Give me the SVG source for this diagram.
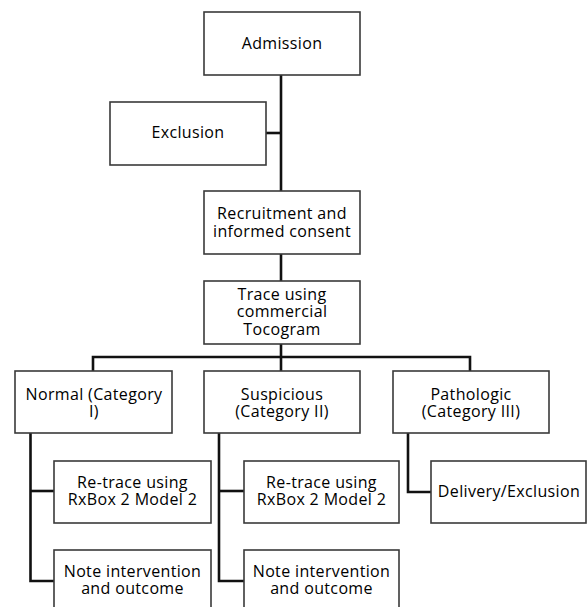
<svg xmlns="http://www.w3.org/2000/svg" width="587" height="607" viewBox="0 0 587 607">
<style>
.box{fill:#fff;stroke:#3a3a3a;stroke-width:1.6}
.lbl{font-family:"Open Sans","Liberation Sans",sans-serif;font-size:16px;letter-spacing:0.35px;fill:#000;text-anchor:middle}
.con{fill:none;stroke:#111;stroke-width:2.6}
</style>
<rect width="587" height="607" fill="#fff"/>
<g id="connectors">
<path class="con" d="M281,75 V191"/>
<path class="con" d="M266,133 H281"/>
<path class="con" d="M281,254 V281"/>
<path class="con" d="M281,344 V371"/>
<path class="con" d="M93,371 V357 H470 V371"/>
<path class="con" d="M30.5,433 V581 H54"/>
<path class="con" d="M30.5,491 H54"/>
<path class="con" d="M219,433 V581 H244"/>
<path class="con" d="M219,491 H244"/>
<path class="con" d="M408,433 V492 H431"/>
</g>
<g id="admission"><rect class="box" x="204" y="12" width="156" height="63"/><text class="lbl" x="282" y="49">Admission</text></g>
<g id="exclusion"><rect class="box" x="110" y="102" width="156" height="63"/><text class="lbl" x="188" y="138">Exclusion</text></g>
<g id="recruitment"><rect class="box" x="204" y="191" width="156" height="63"/><text class="lbl" y="219"><tspan x="282">Recruitment and</tspan><tspan x="282" dy="17.5">informed consent</tspan></text></g>
<g id="trace"><rect class="box" x="204" y="281" width="156" height="63"/><text class="lbl" y="300"><tspan x="282">Trace using</tspan><tspan x="282" dy="17.3">commercial</tspan><tspan x="282" dy="17.2">Tocogram</tspan></text></g>
<g id="normal"><rect class="box" x="15" y="371" width="157" height="62"/><text class="lbl" y="399.5"><tspan x="94">Normal (Category</tspan><tspan x="94" dy="17">I)</tspan></text></g>
<g id="suspicious"><rect class="box" x="204" y="371" width="156" height="62"/><text class="lbl" y="399.5"><tspan x="282">Suspicious</tspan><tspan x="282" dy="17">(Category II)</tspan></text></g>
<g id="pathologic"><rect class="box" x="393" y="371" width="156" height="62"/><text class="lbl" y="399.5"><tspan x="471">Pathologic</tspan><tspan x="471" dy="17">(Category III)</tspan></text></g>
<g id="retrace1"><rect class="box" x="54" y="461" width="157" height="62"/><text class="lbl" y="487.5"><tspan x="132.5">Re-trace using</tspan><tspan x="132.5" dy="17">RxBox 2 Model 2</tspan></text></g>
<g id="retrace2"><rect class="box" x="244" y="461" width="155" height="62"/><text class="lbl" y="487.5"><tspan x="321.5">Re-trace using</tspan><tspan x="321.5" dy="17">RxBox 2 Model 2</tspan></text></g>
<g id="delivery"><rect class="box" x="431" y="461" width="155" height="62"/><text class="lbl" x="509" y="497">Delivery/Exclusion</text></g>
<g id="note1"><rect class="box" x="54" y="550" width="157" height="70"/><text class="lbl" y="577"><tspan x="132.5">Note intervention</tspan><tspan x="132.5" dy="17">and outcome</tspan></text></g>
<g id="note2"><rect class="box" x="244" y="550" width="155" height="70"/><text class="lbl" y="577"><tspan x="321.5">Note intervention</tspan><tspan x="321.5" dy="17">and outcome</tspan></text></g>
</svg>
